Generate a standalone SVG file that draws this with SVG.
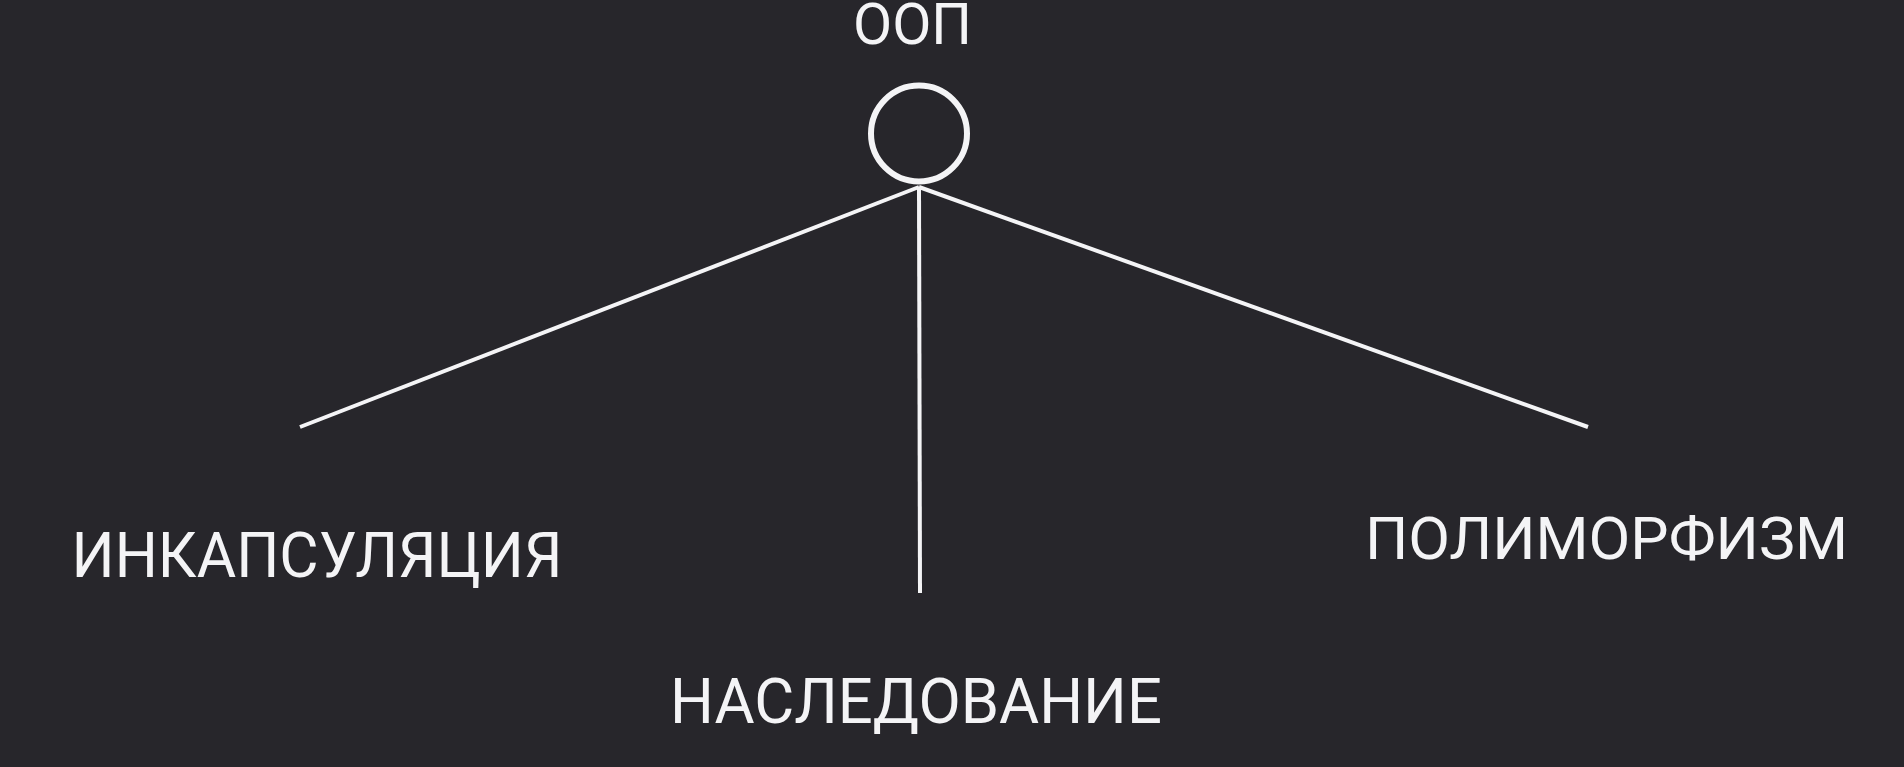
<svg xmlns="http://www.w3.org/2000/svg" width="1904" height="767" viewBox="0 0 1904 767">
<style>
.t{font-family:Roboto,"Liberation Sans",sans-serif;fill:#f4f4f6;text-anchor:middle}
.c{stroke:#f4f4f6;stroke-width:4;fill:none;stroke-linecap:butt}
</style>
<rect width="1904" height="767" fill="#27262b"/>
<g id="root">
<circle cx="919" cy="133.5" r="48" fill="none" stroke="#f4f4f6" stroke-width="6"/>
<text class="t" x="912.5" y="44" font-size="57" textLength="119" lengthAdjust="spacingAndGlyphs">ООП</text>
</g>
<g id="connectors">
<line class="c" x1="919" y1="187" x2="300" y2="427"/>
<line class="c" x1="919" y1="187" x2="920" y2="593"/>
<line class="c" x1="919" y1="187" x2="1588" y2="427"/>
</g>
<g id="n1"><text class="t" x="317" y="577" font-size="63" textLength="491" lengthAdjust="spacingAndGlyphs">ИНКАПСУЛЯЦИЯ</text></g>
<g id="n2"><text class="t" x="916" y="723" font-size="63" textLength="492" lengthAdjust="spacingAndGlyphs">НАСЛЕДОВАНИЕ</text></g>
<g id="n3"><text class="t" x="1606.5" y="559" font-size="60" textLength="483" lengthAdjust="spacingAndGlyphs">ПОЛИМОРФИЗМ</text></g>
</svg>
